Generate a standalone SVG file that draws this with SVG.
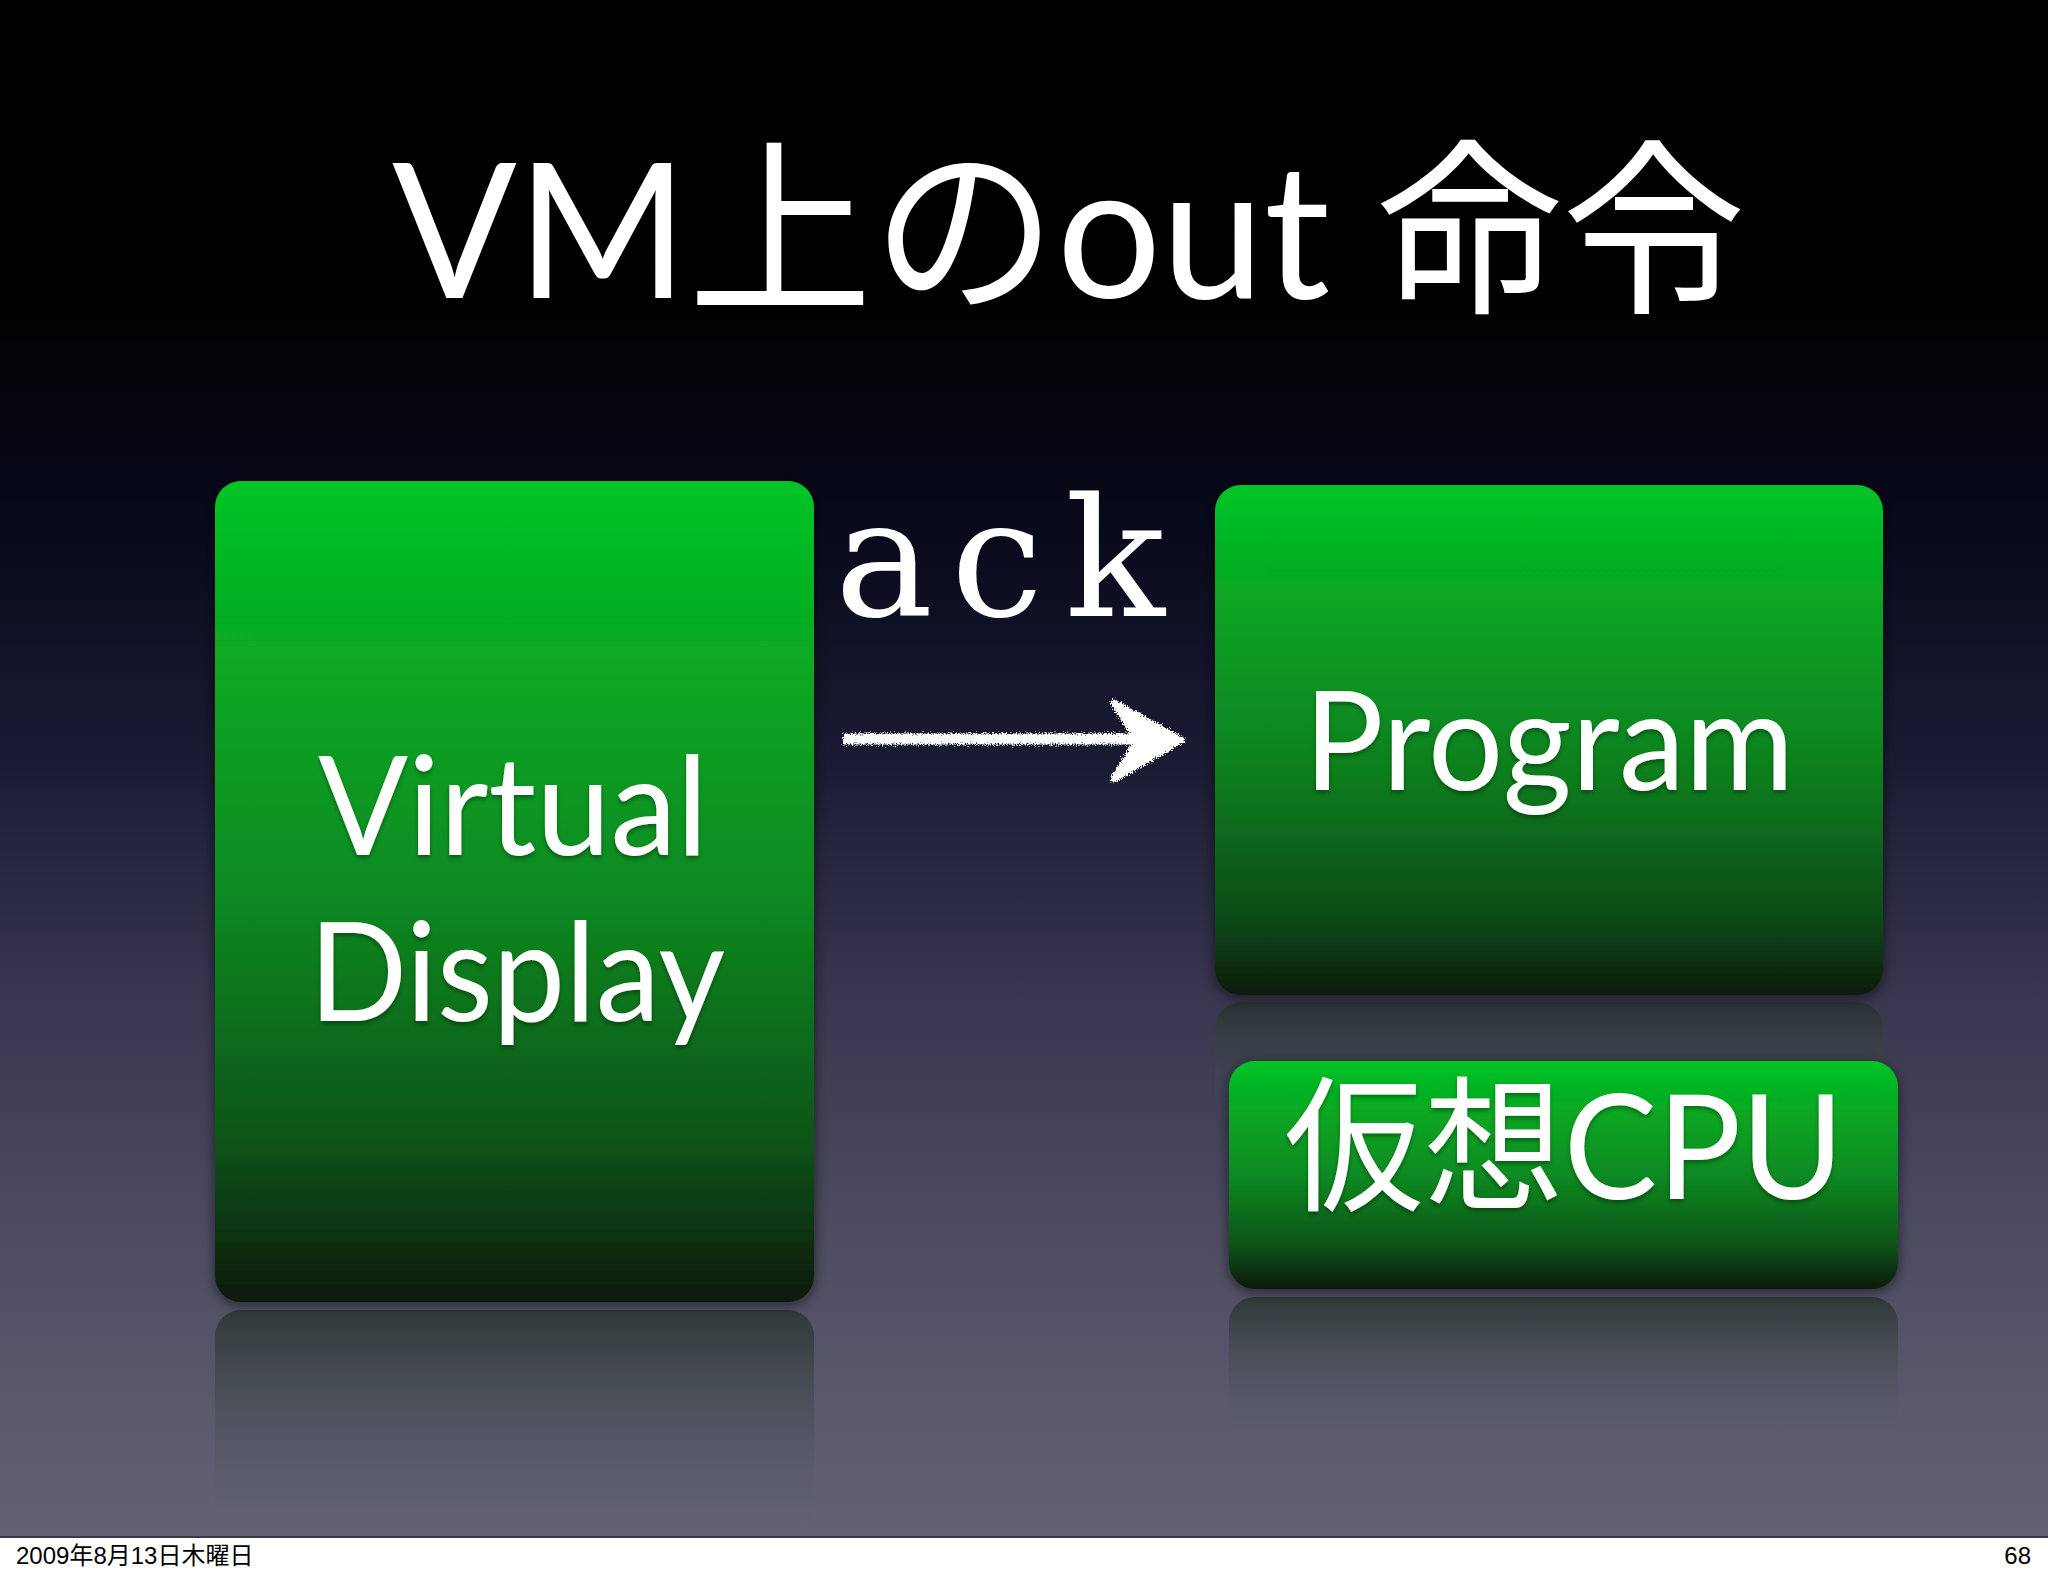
<svg xmlns="http://www.w3.org/2000/svg" width="2048" height="1576" viewBox="0 0 2048 1576">
  <defs>
    <linearGradient id="bg" gradientUnits="userSpaceOnUse" x1="0" y1="0" x2="0" y2="1537">
      <stop offset="0" stop-color="#000000"/>
      <stop offset="0.2" stop-color="#010103"/>
      <stop offset="0.35" stop-color="#090a1c"/>
      <stop offset="0.5" stop-color="#1b1b34"/>
      <stop offset="0.65" stop-color="#38374f"/>
      <stop offset="0.82" stop-color="#4f4e64"/>
      <stop offset="1" stop-color="#626175"/>
    </linearGradient>
    <linearGradient id="green" x1="0" y1="0" x2="0" y2="1">
      <stop offset="0" stop-color="#02c526"/>
      <stop offset="0.12" stop-color="#05b324"/>
      <stop offset="0.5" stop-color="#0e8a21"/>
      <stop offset="0.8" stop-color="#0f5518"/>
      <stop offset="1" stop-color="#0d190d"/>
    </linearGradient>
    <linearGradient id="green2" x1="0" y1="0" x2="0" y2="1">
      <stop offset="0" stop-color="#02c526"/>
      <stop offset="0.2" stop-color="#07a823"/>
      <stop offset="0.55" stop-color="#10801f"/>
      <stop offset="0.85" stop-color="#0f4a16"/>
      <stop offset="1" stop-color="#0d1b0e"/>
    </linearGradient>
    <linearGradient id="refl" x1="0" y1="0" x2="0" y2="1">
      <stop offset="0" stop-color="#26302a" stop-opacity="0.75"/>
      <stop offset="0.5" stop-color="#3c4a42" stop-opacity="0.35"/>
      <stop offset="1" stop-color="#5a6070" stop-opacity="0"/>
    </linearGradient>
    <filter id="shadow" x="-10%" y="-10%" width="120%" height="120%">
      <feDropShadow dx="0" dy="3" stdDeviation="7" flood-color="#000000" flood-opacity="0.55"/>
    </filter>
    <filter id="tshadow" x="-5%" y="-5%" width="110%" height="120%">
      <feDropShadow dx="0" dy="3" stdDeviation="2" flood-color="#000000" flood-opacity="0.35"/>
    </filter>
    <filter id="chalk" x="-5%" y="-30%" width="110%" height="160%">
      <feTurbulence type="fractalNoise" baseFrequency="0.8" numOctaves="2" seed="3" result="n"/>
      <feDisplacementMap in="SourceGraphic" in2="n" scale="8" xChannelSelector="R" yChannelSelector="G"/>
    </filter>
    <style>
      .box { filter: url(#shadow); }
      .label { font-family: Lato, "Noto Sans CJK JP", sans-serif; fill: #ffffff; filter: url(#tshadow); }
      .title { font-family: Lato, "Noto Sans CJK JP", sans-serif; fill: #ffffff; }
      .mono { font-family: "DejaVu Serif", serif; font-size: 165px; fill: #ffffff; }
      .foot { font-family: "Liberation Sans", "Noto Sans CJK JP", sans-serif; font-size: 24px; fill: #000000; }
    </style>
  </defs>

  <rect x="0" y="0" width="2048" height="1537" fill="url(#bg)"/>

  <text class="title" x="392" y="298" font-size="188" textLength="1354" lengthAdjust="spacingAndGlyphs">VM上のout 命令</text>

  <!-- reflections -->
  <g id="reflections">
    <rect x="215" y="1310" width="599" height="220" rx="26" fill="url(#refl)"/>
    <rect x="1215" y="1002" width="668" height="120" rx="26" fill="url(#refl)"/>
    <rect x="1229" y="1297" width="669" height="140" rx="26" fill="url(#refl)"/>
  </g>

  <g id="node-virtual-display">
    <rect class="box" x="215" y="481" width="599" height="821" rx="26" fill="url(#green)"/>
    <text class="label" x="513" y="855" font-size="138" text-anchor="middle" textLength="390" lengthAdjust="spacingAndGlyphs">Virtual</text>
    <text class="label" x="517" y="1021" font-size="138" text-anchor="middle" textLength="416" lengthAdjust="spacingAndGlyphs">Display</text>
  </g>

  <g id="node-program">
    <rect class="box" x="1215" y="485" width="668" height="510" rx="26" fill="url(#green2)"/>
    <text class="label" x="1549" y="790" font-size="138" text-anchor="middle" textLength="490" lengthAdjust="spacingAndGlyphs">Program</text>
  </g>

  <g id="node-cpu">
    <rect class="box" x="1229" y="1061" width="669" height="228" rx="26" fill="url(#green)"/>
    <text class="label" x="1564" y="1199" font-size="146" text-anchor="middle" textLength="560" lengthAdjust="spacingAndGlyphs">仮想CPU</text>
  </g>

  <g id="connectors">
    <g filter="url(#chalk)" fill="#ffffff" stroke="#ffffff">
      <line x1="843" y1="739" x2="1150" y2="739" stroke-width="11"/>
      <path d="M1114,703 L1181,740 L1114,779 L1138,740 Z" stroke-width="7" stroke-linejoin="round"/>
    </g>
    <text class="mono" x="884 997 1115" y="616" text-anchor="middle">ack</text>
  </g>

  <g id="footer">
    <rect x="0" y="1537" width="2048" height="39" fill="#ffffff"/>
    <line x1="0" y1="1537" x2="2048" y2="1537" stroke="#3a3a46" stroke-width="2"/>
    <text class="foot" x="16" y="1564">2009年8月13日木曜日</text>
    <text class="foot" x="2031" y="1564" text-anchor="end">68</text>
  </g>
</svg>
